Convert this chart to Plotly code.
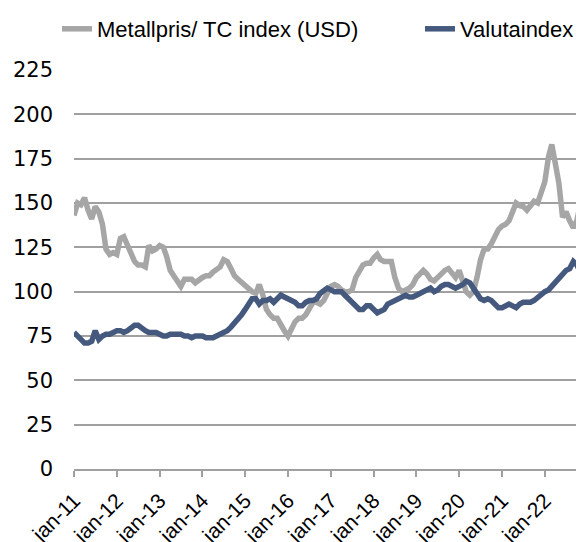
import pandas as pd
import plotly.graph_objects as go

months = pd.date_range("2011-01-01", periods=144, freq="MS")

metallpris = [
    143, 150, 149, 153, 146, 141, 148, 145, 138, 124, 121, 122,
    121, 130, 131, 126, 122, 117, 115, 115, 114, 126, 123, 124,
    126, 125, 120, 112, 109, 106, 103, 107, 107, 107, 105, 107,
    108, 109, 109, 111, 113, 114, 118, 117, 113, 109, 107, 105,
    104, 101, 100, 99, 104, 98, 90, 87, 85, 85, 81, 78,
    75, 79, 83, 85, 85, 87, 91, 94, 94, 93, 95, 99,
    103, 104, 103, 101, 100, 100, 101, 108, 112, 115, 116, 116,
    119, 121, 118, 117, 117, 117, 108, 102, 100, 101, 102, 104,
    108, 110, 112, 110, 107, 106, 108, 111, 112, 113, 110, 108,
    112, 106, 100, 98, 100, 108, 118, 124, 124, 127, 132, 135,
    137, 138, 140, 146, 150, 148.5, 148, 146, 148, 151, 150, 155,
    162, 176, 183, 172, 161, 142, 145, 140, 136, 140, 150, 155,
]

valutaindex = [
    77, 75, 73, 71, 71, 72, 78, 73, 75, 76, 76, 77,
    78, 78, 77, 78, 80, 81, 81, 79, 78, 77, 77, 77,
    76, 75, 75, 76, 76, 76, 76, 75, 75, 74, 75, 75,
    75, 74, 74, 74, 75, 76, 77, 78, 80, 82, 84, 87,
    90, 93, 96, 96, 93, 95, 95, 96, 94, 96, 98, 97,
    96, 95, 94, 92, 92, 94, 95, 95, 96, 99, 101, 102,
    101, 100, 100, 100, 98, 96, 93, 91, 90, 90, 92, 92,
    90, 88, 89, 90, 93, 94, 95, 96, 97, 98, 97, 97,
    98, 99, 100, 101, 102, 100, 101, 103, 104, 104, 103, 102,
    103, 104, 106, 105, 102, 99, 96, 95, 96, 95, 93, 91,
    91, 92, 93, 92, 91, 93, 94, 94, 94, 95, 97, 98,
    100, 101, 103, 105, 108, 110, 112, 113, 117, 115, 111, 109,
]

y_ticks = [0, 25, 50, 75, 100, 125, 150, 175, 200, 225]
x_tick_dates = pd.date_range("2011-01-01", "2022-01-01", freq="YS")
x_tick_labels = [f"jan-{d.year % 100:02d}" for d in x_tick_dates]

FONT = "Liberation Sans"
W, H = 576, 534  # page body has an 8px default margin

fig = go.Figure()
fig.add_trace(go.Scatter(
    x=months, y=metallpris, mode="lines", name="Metallpris/ TC index (USD)",
    line=dict(color="#A6A6A6", width=5.5), legend="legend",
))
fig.add_trace(go.Scatter(
    x=months, y=valutaindex, mode="lines", name="Valutaindex",
    line=dict(color="#44597D", width=5.5), legend="legend2",
))

legend_common = dict(
    orientation="h", xref="container", yref="container",
    xanchor="left", y=1 - 21 / H, yanchor="middle",
    font=dict(family=FONT, size=22, color="#000000"),
    bgcolor="rgba(0,0,0,0)",
)

fig.update_layout(
    width=W, height=H,
    margin=dict(l=66, r=0, t=62, b=73, autoexpand=False),
    paper_bgcolor="white", plot_bgcolor="white",
    font=dict(family=FONT, size=22, color="#000000"),
    showlegend=True,
    legend=dict(x=49 / W, **legend_common),
    legend2=dict(x=412 / W, **legend_common),
    xaxis=dict(
        range=[months[0], months[-1]],
        tickmode="array", tickvals=list(x_tick_dates), ticktext=x_tick_labels,
        tickangle=-45, showgrid=False, showline=True, linecolor="#A0A0A0",
        linewidth=2, ticks="outside", ticklen=6, tickwidth=2, tickcolor="#A0A0A0",
        tickfont=dict(family=FONT, size=21), ticklabelstandoff=3,
        zeroline=False, automargin=False,
    ),
    yaxis=dict(
        range=[0, 225], tickmode="array", tickvals=y_ticks,
        showgrid=True, gridcolor="#A0A0A0", gridwidth=2,
        showline=False, zeroline=False, ticks="",
        ticklabelstandoff=20, tickfont=dict(family="DejaVu Sans", size=21),
        automargin=False,
    ),
)

fig.write_html("out.html")
